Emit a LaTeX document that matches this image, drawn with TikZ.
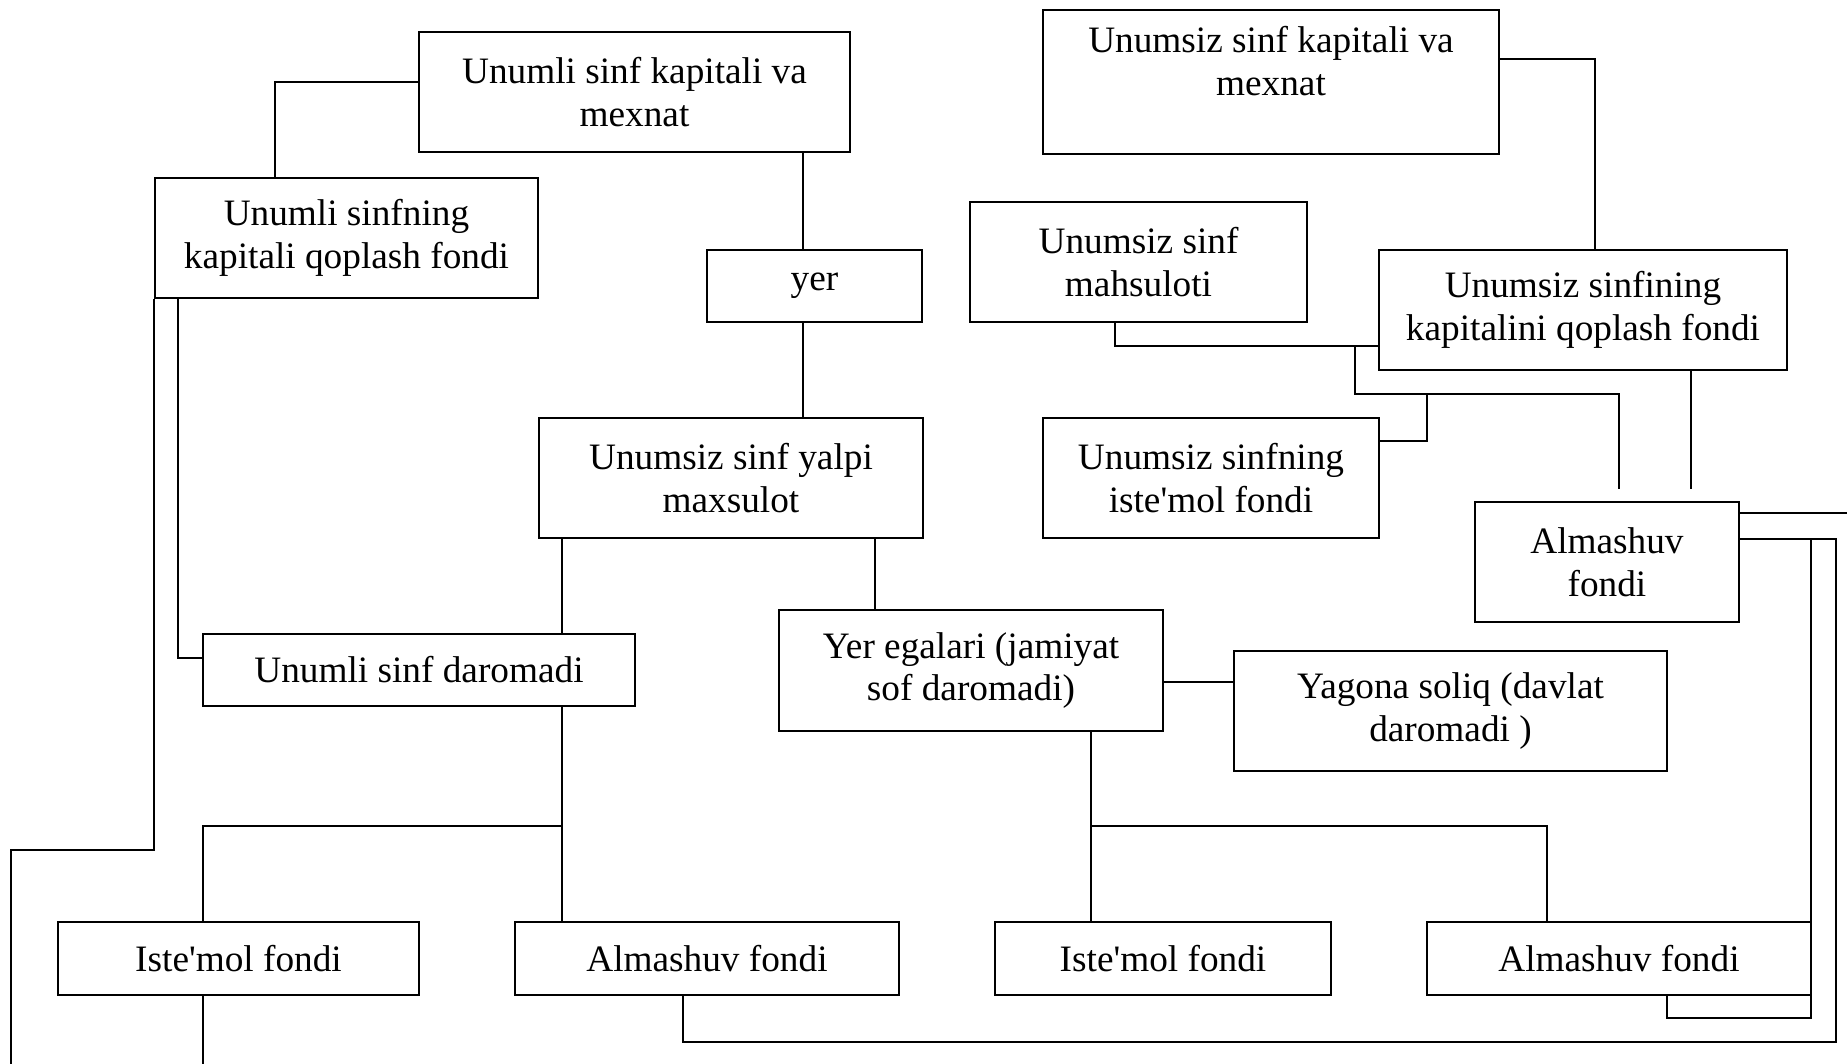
\documentclass[tikz,border=0pt]{standalone}
\usepackage{fontspec}
\setmainfont{Liberation Serif}
\usetikzlibrary{calc}

\tikzset{box/.style = {draw, thin, rectangle, align = center, inner sep = 0pt, font = \fontsize{10.6}{12.2}\selectfont}}

\begin{document}
\begin{tikzpicture}[x = 0.01cm, y = -0.01cm, thin]
    \useasboundingbox (0,0) rectangle (1847,1064);
    \coordinate (bl) at (0,1064);
    \coordinate (tr) at (1847,0);
    \node[box, minimum width = 4.31cm, minimum height = 1.20cm] (uk) at (634.5,92) {Unumli sinf kapitali va\\mexnat};
    \node[box, minimum width = 3.83cm, minimum height = 1.20cm] (uq) at (346.5,238) {Unumli sinfning\\kapitali qoplash fondi};
    \node[box, minimum width = 2.15cm, minimum height = 0.72cm] (yer) at (814.5,286) {yer};
    \node[box, minimum width = 3.84cm, minimum height = 1.20cm] (ym) at (731,478) {Unumsiz sinf yalpi\\maxsulot};
    \node[box, minimum width = 4.32cm, minimum height = 0.72cm] (ud) at (419,670) {Unumli sinf daromadi};
    \node[box, minimum width = 3.84cm, minimum height = 1.21cm] (ye) at (971,670.5) {Yer egalari (jamiyat\\sof daromadi)};
    \node[box, minimum width = 4.33cm, minimum height = 1.20cm] (ys) at (1450.5,711) {Yagona soliq (davlat\\daromadi )};
    \node[box, minimum width = 3.61cm, minimum height = 0.73cm] (ui) at (238.5,958.5) {Iste\textquotesingle mol fondi};
    \node[box, minimum width = 3.84cm, minimum height = 0.73cm] (ua) at (707,958.5) {Almashuv fondi};
    \node[box, minimum width = 3.36cm, minimum height = 0.73cm] (yi) at (1163,958.5) {Iste\textquotesingle mol fondi};
    \node[box, minimum width = 3.84cm, minimum height = 0.73cm] (ya) at (1619,958.5) {Almashuv fondi};
    \node[box, minimum width = 4.56cm, minimum height = 1.44cm] (nk) at (1271,82) {Unumsiz sinf kapitali va\\mexnat\\~};
    \node[box, minimum width = 3.37cm, minimum height = 1.20cm] (nm) at (1138.5,262) {Unumsiz sinf\\mahsuloti};
    \node[box, minimum width = 4.08cm, minimum height = 1.20cm] (nq) at (1583,310) {Unumsiz sinfining\\kapitalini qoplash fondi};
    \node[box, minimum width = 3.36cm, minimum height = 1.20cm] (ni) at (1211,478) {Unumsiz sinfning\\iste\textquotesingle mol fondi};
    \node[box, minimum width = 2.64cm, minimum height = 1.20cm] (na) at (1607,562) {Almashuv\\fondi};
    \coordinate (p1) at (275,82);
    \coordinate (p2) at (803,0);
    \coordinate (p3) at (178,658);
    \coordinate (p4) at (11,850);
    \coordinate (p5) at (562,826);
    \coordinate (p6) at (203,826);
    \coordinate (p8) at (683,1042);
    \coordinate (p9) at (1836,539);
    \coordinate (p10) at (875,0);
    \coordinate (p11) at (0,682);
    \coordinate (p12) at (1091,826);
    \coordinate (p13) at (1547,826);
    \coordinate (p14) at (1667,1018);
    \coordinate (p15) at (1811,539);
    \coordinate (p16) at (0,513);
    \coordinate (p17) at (1595,59);
    \coordinate (p18) at (1115,346);
    \coordinate (p19) at (1355,394);
    \coordinate (p20) at (1619,489);
    \coordinate (p21) at (1427,441);
    \coordinate (p22) at (1691,489);
    \draw (uk.west |- p1) -| (uq.north -| p1);
    \draw (uk.south -| p2) -- (yer.north -| p2);
    \draw (yer.south -| p2) -- (ym.north -| p2);
    \draw (uq.south -| p3) |- (ud.west |- p3);
    \draw (uq.south west) |- (p4) -- (p4 |- bl);
    \draw (ym.south -| p5) -- (ud.north -| p5);
    \draw (ud.south -| p5) -- (ua.north -| p5);
    \draw (p5) -- (p6) -- (ui.north -| p6);
    \draw (ui.south -| p6) -- (p6 |- bl);
    \draw (ua.south -| p8) -- (p8) -| (p9) -- (na.east |- p9);
    \draw (ym.south -| p10) -- (ye.north -| p10);
    \draw (ye.east |- p11) -- (ys.west |- p11);
    \draw (ye.south -| p12) -- (yi.north -| p12);
    \draw (p12) -| (ya.north -| p13);
    \draw (na.east |- p15) -- (p15) |- (p14) -- (ya.south -| p14);
    \draw (na.east |- p16) -- (tr |- p16);
    \draw (nk.east |- p17) -| (nq.north -| p17);
    \draw (nm.south -| p18) |- (nq.west |- p18);
    \draw (p19 |- p18) -- (p19) -| (p20);
    \draw (p21 |- p19) |- (ni.east |- p21);
    \draw (nq.south -| p22) -- (p22);
\end{tikzpicture}
\end{document}
